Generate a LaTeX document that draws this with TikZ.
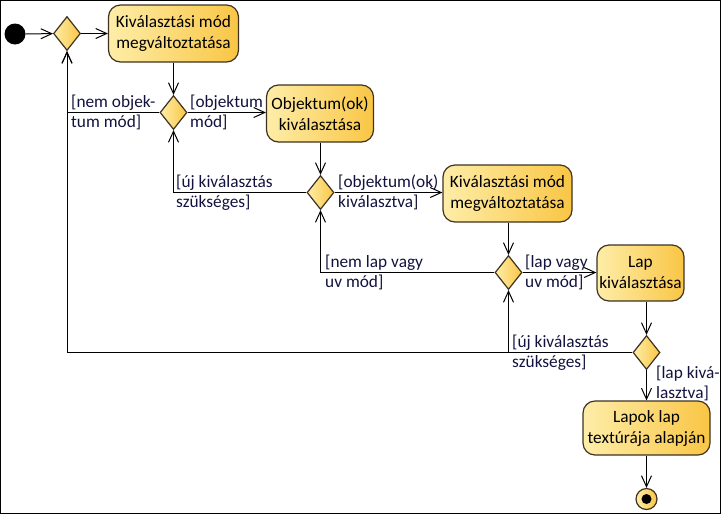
\documentclass[tikz,border=0pt]{standalone}
\usepackage{fontspec}
\setmainfont{Carlito}
\usetikzlibrary{shapes.geometric,arrows.meta}
\definecolor{fillL}{HTML}{FEEDA8}
\definecolor{fillR}{HTML}{F9C645}
\definecolor{edge}{HTML}{3E3222}
\definecolor{lbl}{HTML}{12123E}
\begin{document}
\begin{tikzpicture}[x=1pt,y=-1pt,
  act/.style={draw=edge, line width=1.2pt, rounded corners=12pt, left color=fillL, right color=fillR,
    align=center, font=\fontsize{17.3}{21}\selectfont, inner sep=0pt, minimum height=57pt},
  dec/.style={diamond, draw=edge, line width=1.2pt, left color=fillL, right color=fillR,
    minimum width=27pt, minimum height=34pt, inner sep=0pt},
  lab/.style={anchor=west, align=left, text=lbl, font=\fontsize{17.3}{20}\selectfont, inner sep=0pt},
  flow/.style={line width=1pt, -{Straight Barb[length=11pt,width=10pt]}},
  ln/.style={line width=1pt}]
\useasboundingbox (0,0) rectangle (722,515);
\draw[line width=1pt] (0.5,0.5) rectangle (720.5,513.5);

% start
\node[circle, fill=black, minimum size=21pt, inner sep=0pt] (start) at (15,34) {};
% decisions
\node[dec] (d1) at (67,33.5) {};
\node[dec] (d2) at (173.5,112.5) {};
\node[dec] (d3) at (320.5,192.5) {};
\node[dec] (d4) at (508.5,272.5) {};
\node[dec] (d5) at (646.5,352.5) {};
% actions
\node[act, minimum width=130pt] (b1) at (173.5,33.5) {Kiválasztási mód\\megváltoztatása};
\node[act, minimum width=107pt] (b2) at (320,113.5) {Objektum(ok)\\kiválasztása};
\node[act, minimum width=129pt] (b3) at (507.5,193.5) {Kiválasztási mód\\megváltoztatása};
\node[act, minimum width=87pt, minimum height=56pt] (b4) at (640.5,273) {Lap\\kiválasztása};
\node[act, minimum width=127pt, minimum height=54pt] (b5) at (646.5,428) {Lapok lap\\textúrája alapján};
% end
\node[circle, draw=edge, line width=1.2pt, left color=fillL, right color=fillR, minimum size=21pt, inner sep=0pt] (end) at (646.5,499) {};
\node[circle, fill=black, minimum size=10pt, inner sep=0pt] (endin) at (end) {};

% flows
\draw[flow] (start) -- (d1);
\draw[flow] (d1) -- (b1);
\draw[flow] (b1) -- (d2);
\draw[flow] (d2.west) -| (d1.south);
\draw[flow] (d2.east) -- (b2.west |- d2.east);
\draw[flow] (b2.south -| d3.north) -- (d3.north);
\draw[flow] (d3.west) -| (d2.south);
\draw[flow] (d3.east) -- (b3.west |- d3.east);
\draw[flow] (b3.south -| d4.north) -- (d4.north);
\draw[flow] (d4.west) -| (d3.south);
\draw[flow] (d4.east) -- (b4.west |- d4.east);
\draw[flow] (b4.south -| d5.north) -- (d5.north);
\draw[flow] (d5.west) -| (d1.south);
\draw[flow] (d4.south |- d5.west) -- (d4.south);
\draw[flow] (d5.south) -- (b5.north);
\draw[flow] (b5.south) -- (end);

% labels
\node[lab] (l1) at (71,112.5) {[nem objek-\\tum mód]};
\node[lab] (l2) at (190,112.5) {[objektum\\mód]};
\node[lab] (l3) at (176,192.5) {[új kiválasztás\\szükséges]};
\node[lab] (l4) at (338,192.5) {[objektum(ok)\\kiválasztva]};
\node[lab] (l5) at (325,272.5) {[nem lap vagy\\uv mód]};
\node[lab] (l6) at (525,272.5) {[lap vagy\\uv mód]};
\node[lab] (l7) at (512,352.5) {[új kiválasztás\\szükséges]};
\node[lab] (l8) at (656,383) {[lap kivá-\\lasztva]};
\end{tikzpicture}
\end{document}
